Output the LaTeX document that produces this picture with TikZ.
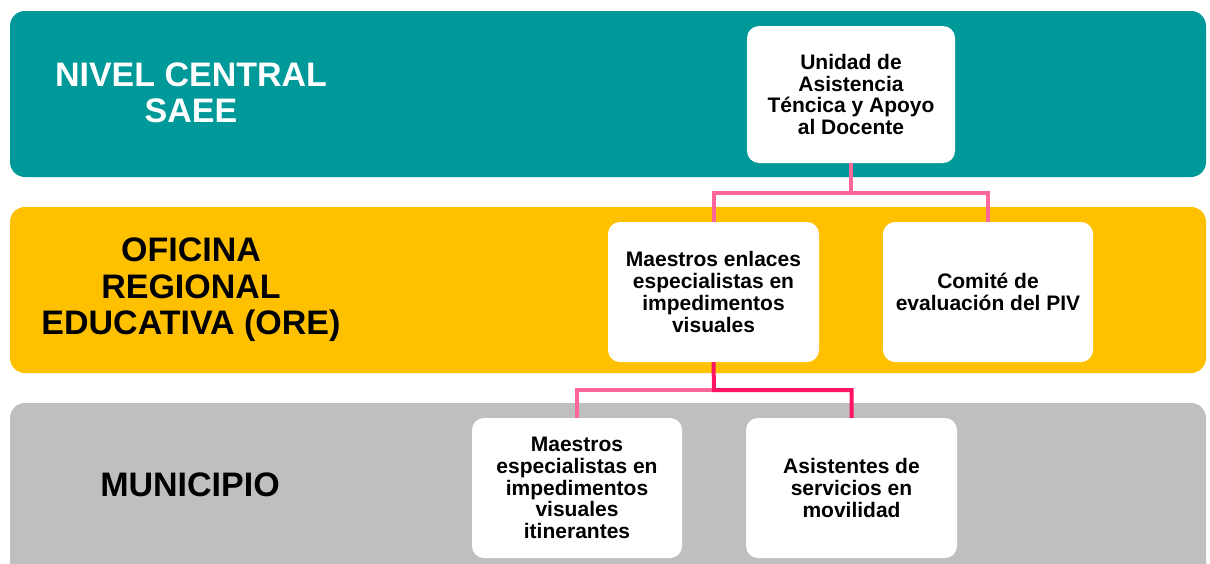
\documentclass[tikz,border=0pt]{standalone}
\usepackage{fontspec}
\setmainfont{Liberation Sans}
\definecolor{teal1}{RGB}{0,153,153}
\definecolor{gold1}{RGB}{255,192,0}
\definecolor{gray1}{RGB}{191,191,191}
\definecolor{pinkA}{RGB}{255,102,153}
\definecolor{pinkB}{RGB}{255,20,100}
\tikzset{
  band/.style={rounded corners=15pt},
  bandtext/.style={align=center,font=\fontsize{34}{36.5}\selectfont\bfseries,inner sep=0pt},
  orgbox/.style={fill=white,rounded corners=12pt,align=center,inner sep=2pt,
    font=\fontsize{21}{21.7}\selectfont\bfseries,text=black},
  connA/.style={draw=pinkA,line width=4pt},
  connB/.style={draw=pinkB,line width=4pt},
}
\begin{document}
\begin{tikzpicture}[x=1pt,y=-1pt]
\useasboundingbox (0,0) rectangle (1210,563);
\fill[white] (0,0) rectangle (1210,563);
% bands
\fill[teal1,band] (10,11) rectangle (1206,177);
\fill[gold1,band] (10,207) rectangle (1206,373);
\fill[gray1,band] (10,403) rectangle (1206,590);
\node[bandtext,text=white] (lnivel) at (191,93) {NIVEL CENTRAL\\SAEE};
\node[bandtext,text=black] (lore) at (191,290) {OFICINA\\REGIONAL\\EDUCATIVA (ORE)};
\node[bandtext,text=black] (lmun) at (190,485) {MUNICIPIO};
% boxes
\node[orgbox,minimum width=208pt,minimum height=137pt] (unidad) at (851,94.5)
  {Unidad de\\Asistencia\\Téncica y Apoyo\\al Docente};
\node[orgbox,minimum width=211pt,minimum height=140pt] (enlaces) at (713.5,292)
  {Maestros enlaces\\especialistas en\\impedimentos\\visuales};
\node[orgbox,minimum width=210pt,minimum height=140pt] (comite) at (988,292)
  {Comité de\\evaluación del PIV};
\node[orgbox,minimum width=210pt,minimum height=140pt] (espec) at (577,488)
  {Maestros\\especialistas en\\impedimentos\\visuales\\itinerantes};
\node[orgbox,minimum width=211pt,minimum height=140pt] (asist) at (851.5,488)
  {Asistentes de\\servicios en\\movilidad};
% connectors
\coordinate (j1) at (851,193);
\coordinate (j2) at (714,390);
\draw[connA] (unidad.south) -- (j1) -| (enlaces.north);
\draw[connA] (j1) -| (comite.north);
\draw[connA] (j2) -| (espec.north);
\draw[connB] (enlaces.south) -- (j2) -| (asist.north);
\end{tikzpicture}
\end{document}
